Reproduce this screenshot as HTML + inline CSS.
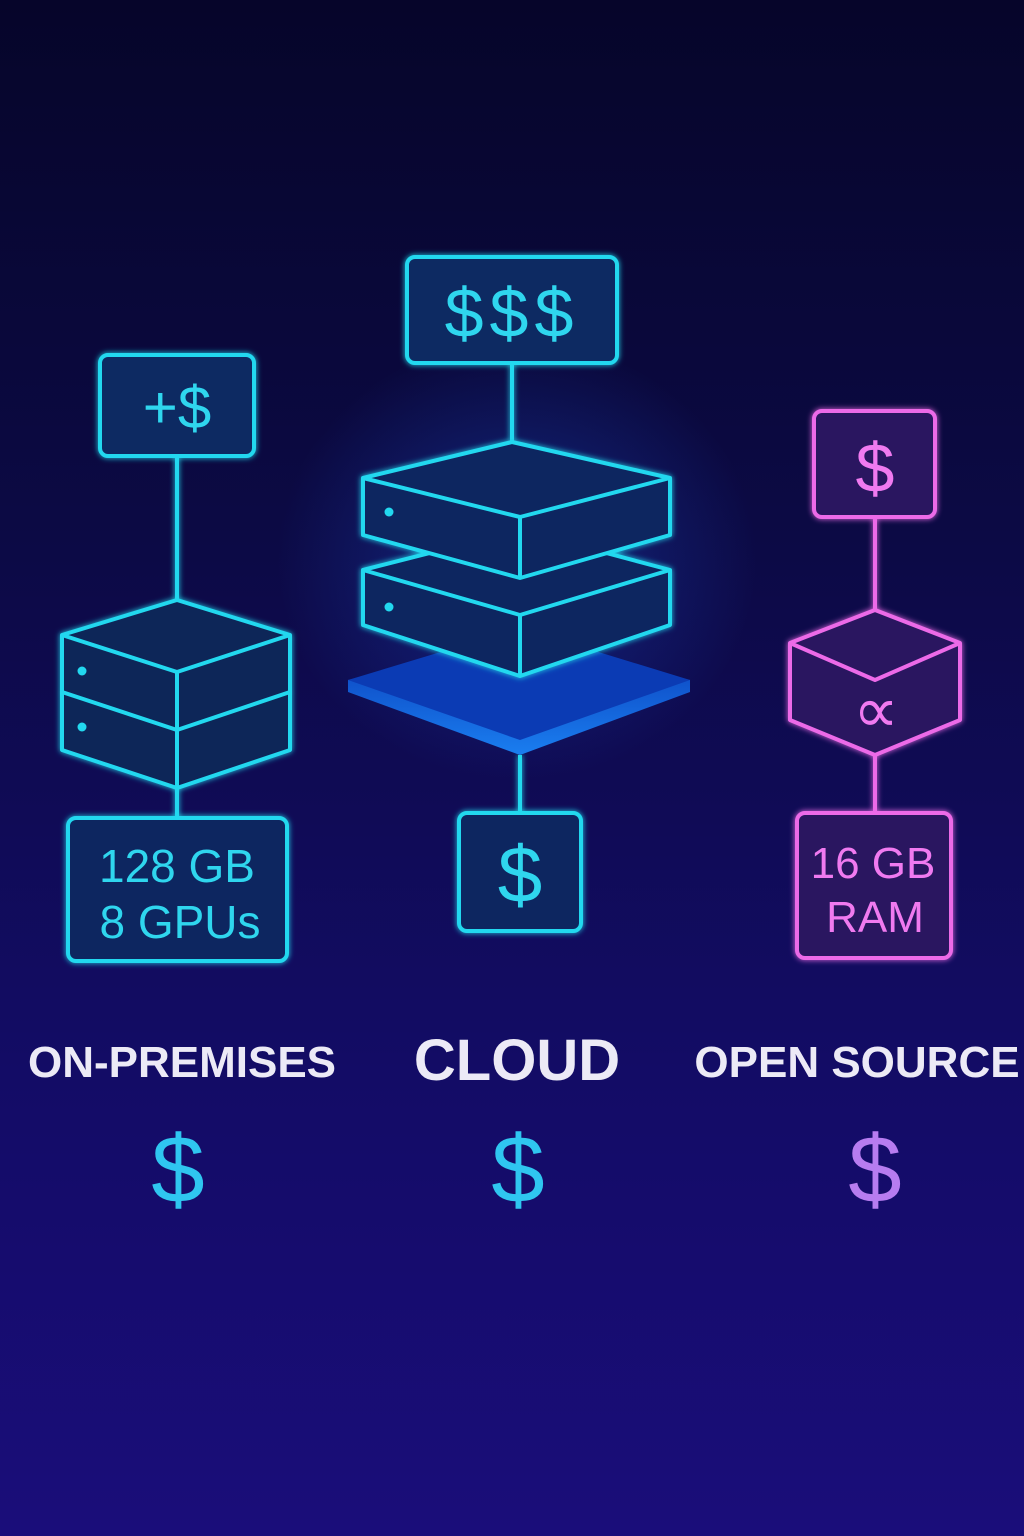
<!DOCTYPE html>
<html><head><meta charset="utf-8"><style>
html,body{margin:0;padding:0;width:1024px;height:1536px;overflow:hidden}
body{background:linear-gradient(180deg,#06052a 0%,#0c0a45 35%,#130c66 70%,#1a0d7a 100%);}
svg{display:block}
text{font-family:"Liberation Sans","DejaVu Sans",sans-serif}
</style></head><body>
<svg width="1024" height="1536" viewBox="0 0 1024 1536" xmlns="http://www.w3.org/2000/svg">
<defs>
<filter id="g" x="-20%" y="-20%" width="140%" height="140%"><feGaussianBlur stdDeviation="3" result="b"/><feMerge><feMergeNode in="b"/><feMergeNode in="SourceGraphic"/></feMerge></filter>
<linearGradient id="pl" x1="0" y1="0" x2="0" y2="1"><stop offset="0" stop-color="#0a3cb8"/><stop offset="1" stop-color="#1a7ef0"/></linearGradient>
<radialGradient id="halo" cx="0.5" cy="0.5" r="0.5"><stop offset="0" stop-color="#1d4fd0" stop-opacity="0.45"/><stop offset="1" stop-color="#1d4fd0" stop-opacity="0"/></radialGradient>
</defs>
<ellipse cx="517" cy="560" rx="240" ry="220" fill="url(#halo)"/>
<g stroke="#22d8ef" stroke-width="4" fill="#0c2560" stroke-linejoin="round" filter="url(#g)">
<line x1="177" y1="456" x2="177" y2="600"/>
<line x1="177" y1="788" x2="177" y2="818"/>
<rect x="100" y="355" width="154" height="101" rx="8" fill="#102a62"/>
<path d="M177 600 L290 635 L290 750 L177 788 L62 750 L62 635 Z" fill="#0e2658"/>
<path d="M62 635 L177 672 L290 635 M177 672 L177 788 M62 692 L177 730 L290 692" fill="none"/>
<rect x="68" y="818" width="219" height="143" rx="8" fill="#0f2660"/>
<line x1="512" y1="363" x2="512" y2="442"/>
<line x1="520" y1="755" x2="520" y2="813"/>
<rect x="407" y="257" width="210" height="106" rx="8" fill="#102a62"/>
<rect x="459" y="813" width="122" height="118" rx="8" fill="#0f2660"/>
</g>
<path d="M348 680 L520 640 L690 680 L690 692 L520 755 L348 692 Z" fill="url(#pl)"/>
<path d="M348 680 L520 628 L690 680 L520 740 Z" fill="#0b3bb4"/>
<g stroke="#22d8ef" stroke-width="4" fill="#0c2560" stroke-linejoin="round" filter="url(#g)">
<path d="M363 570 L520 530 L670 570 L670 625 L520 676 L363 625 Z"/>
<path d="M363 570 L520 615 L670 570 M520 615 L520 676" fill="none"/>
<path d="M512 442 L670 478 L670 535 L520 578 L363 535 L363 478 Z"/>
<path d="M363 478 L520 517 L670 478 M520 517 L520 578" fill="none"/>
</g>
<circle cx="389" cy="512" r="4.5" fill="#22d8ef"/><circle cx="389" cy="607" r="4.5" fill="#22d8ef"/>
<circle cx="82" cy="671" r="4.5" fill="#22d8ef"/><circle cx="82" cy="727" r="4.5" fill="#22d8ef"/>
<g stroke="#ec6ae8" stroke-width="4" fill="#2a1560" stroke-linejoin="round" filter="url(#g)">
<line x1="875" y1="517" x2="875" y2="610"/>
<line x1="875" y1="755" x2="875" y2="813"/>
<rect x="814" y="411" width="121" height="106" rx="8"/>
<path d="M875 610 L960 643 L960 720 L875 755 L790 720 L790 643 Z"/>
<path d="M790 643 L875 680 L960 643" fill="none"/>
<rect x="797" y="813" width="154" height="145" rx="8"/>
</g>
<g fill="#2fd6ee" text-anchor="middle">
<text x="177" y="428" font-size="60">+$</text>
<text x="512" y="337" font-size="70" letter-spacing="6">$$$</text>
<text x="520" y="902" font-size="80">$</text>
<text x="177" y="882" font-size="46">128 GB</text>
<text x="180" y="938" font-size="46">8 GPUs</text>
</g>
<g fill="#f07af0" text-anchor="middle">
<text x="875" y="492" font-size="70">$</text>
<text x="876" y="732" font-size="64">∝</text>
<text x="873" y="878" font-size="44">16 GB</text>
<text x="875" y="932" font-size="44">RAM</text>
</g>
<g fill="#eceaf6" text-anchor="middle" font-weight="bold">
<text x="182" y="1077" font-size="44">ON-PREMISES</text>
<text x="517" y="1080" font-size="58">CLOUD</text>
<text x="857" y="1077" font-size="44">OPEN SOURCE</text>
</g>
<text x="178" y="1202" font-size="96" fill="#2fc6f0" text-anchor="middle">$</text>
<text x="518" y="1202" font-size="96" fill="#2fc6f0" text-anchor="middle">$</text>
<text x="875" y="1202" font-size="96" fill="#b77cf0" text-anchor="middle">$</text>
</svg>
</body></html>
